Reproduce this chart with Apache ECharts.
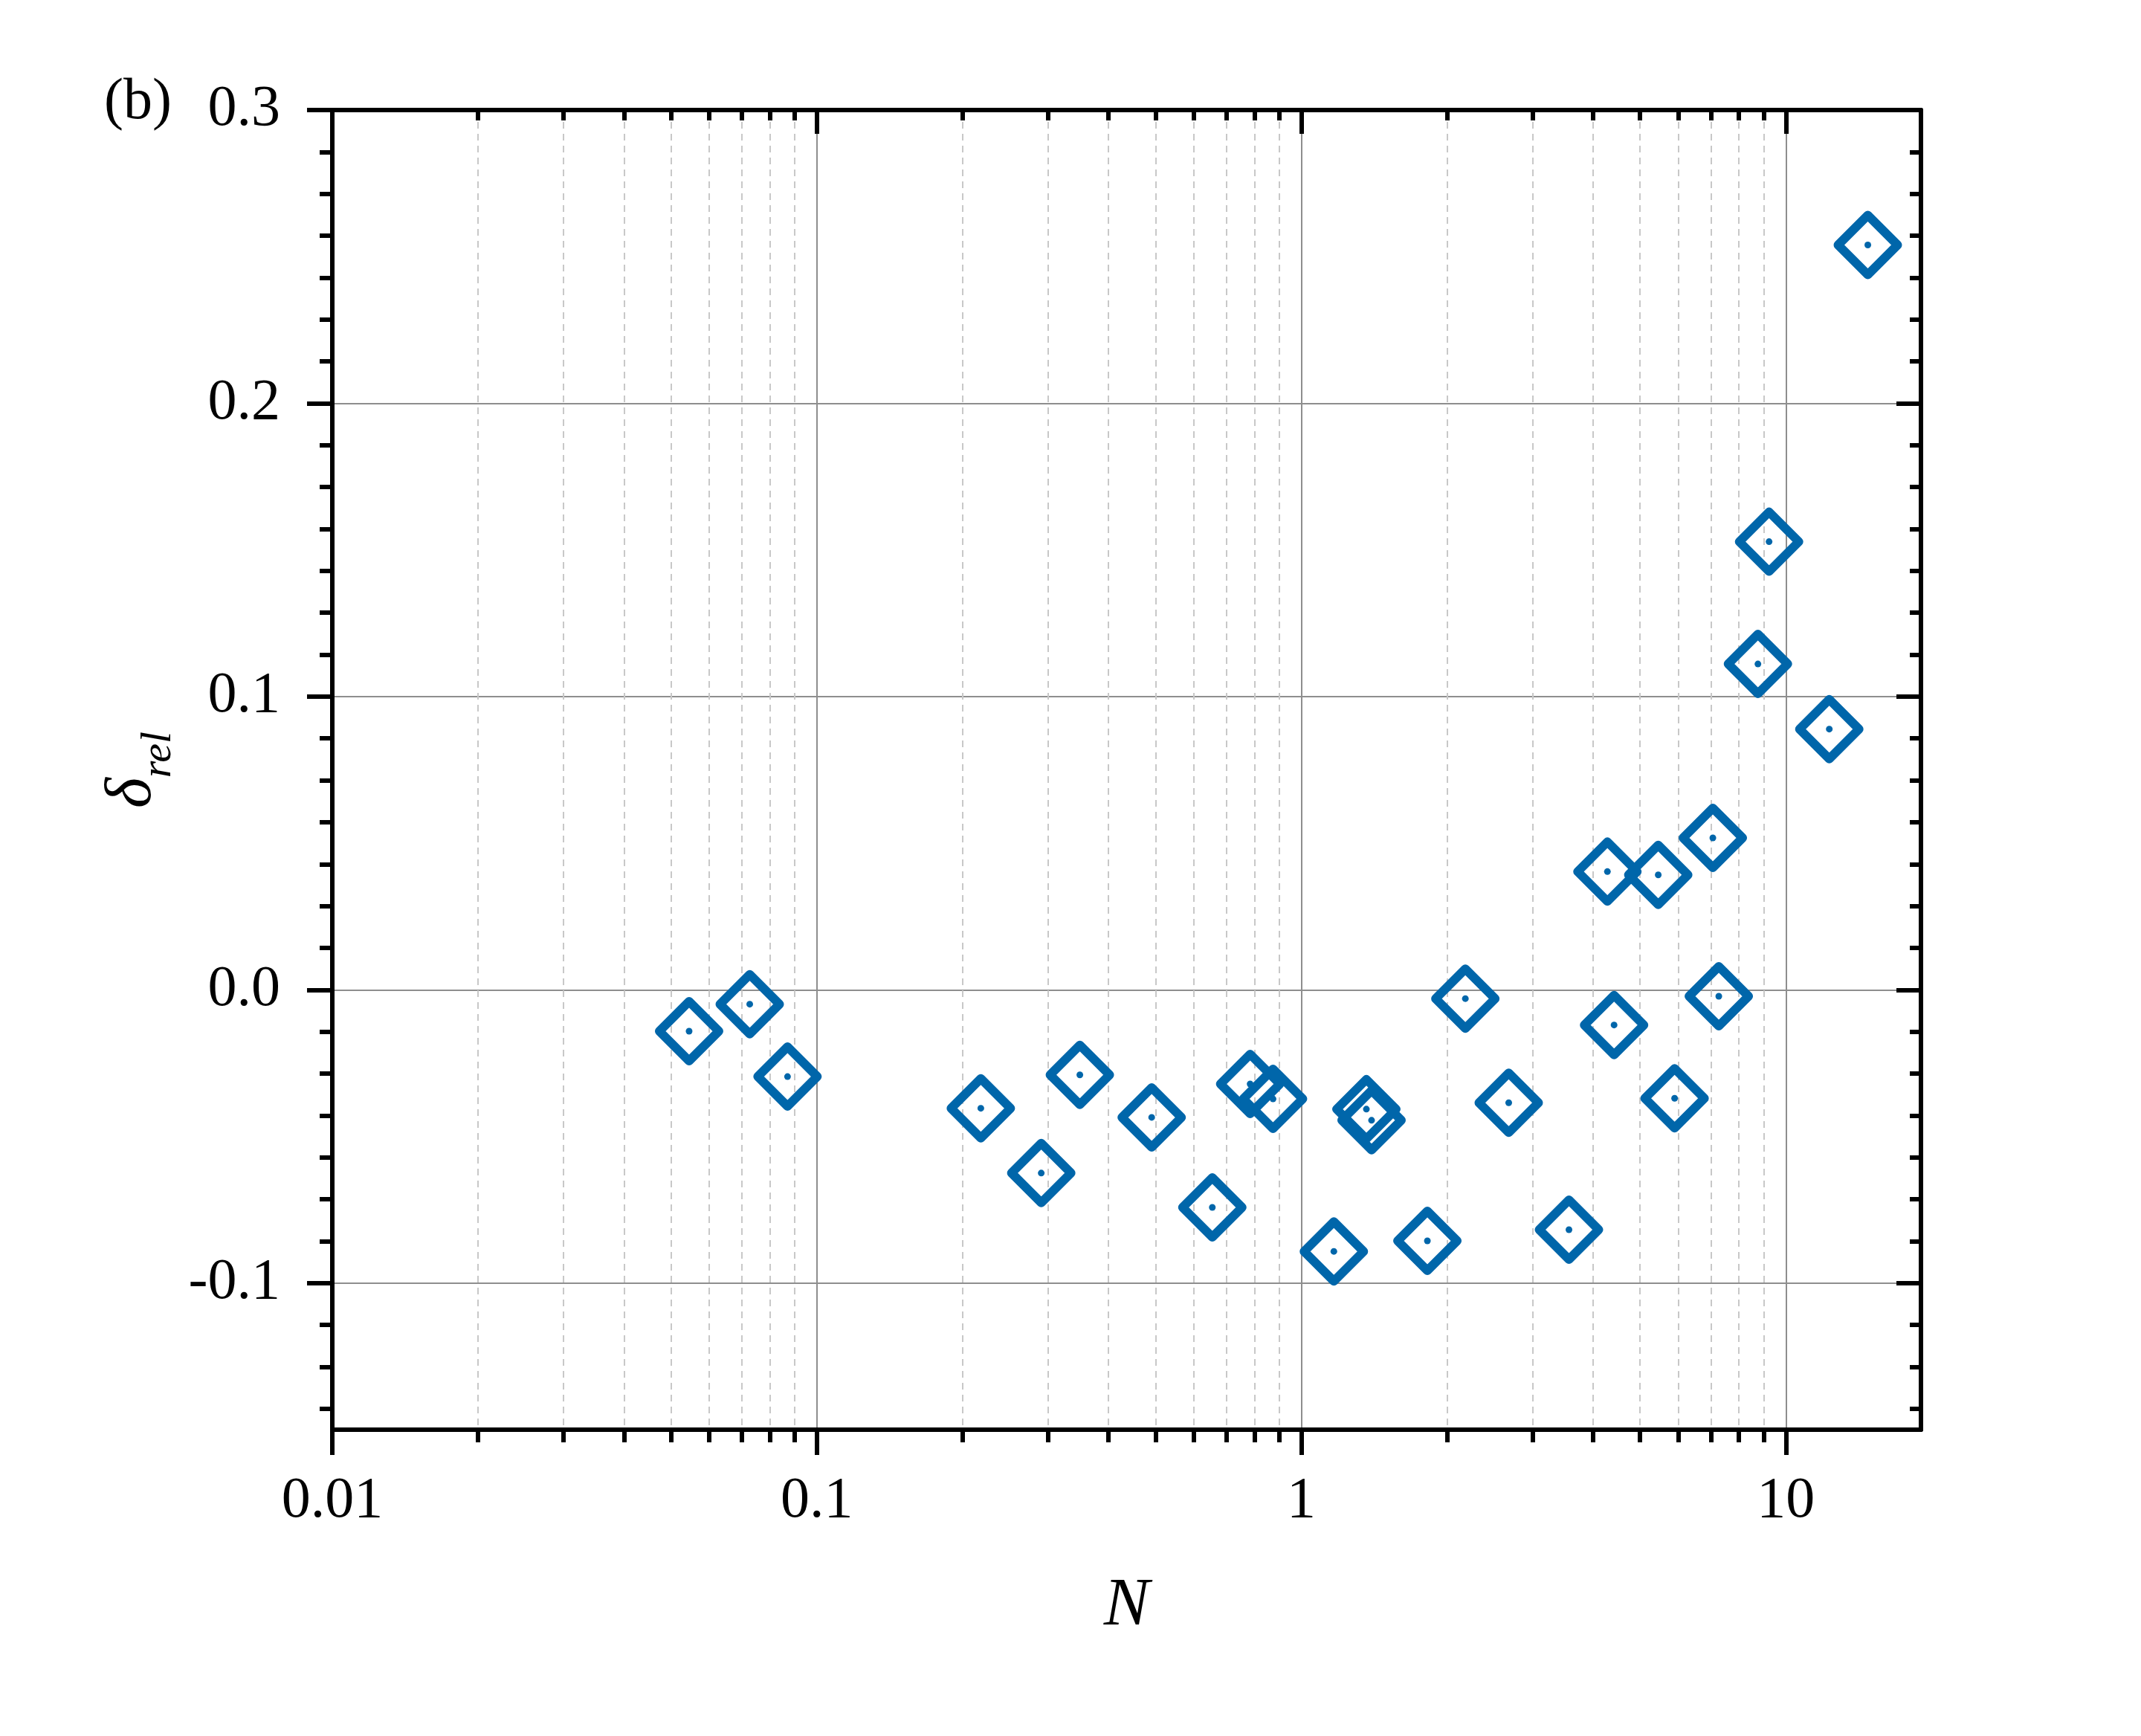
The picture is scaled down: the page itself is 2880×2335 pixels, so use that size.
<!DOCTYPE html>
<html>
<head>
<meta charset="utf-8">
<script src="https://cdn.jsdelivr.net/npm/echarts@6/dist/echarts.min.js"></script>
<style>
  html, body { margin: 0; padding: 0; background: #fff; }
  #chart { width: 2880px; height: 2335px; }
</style>
</head>
<body>
<div id="chart"></div>
<script>
// N values (log x) and relative deviation
var nVals = [0.0545, 0.0727, 0.0870, 0.218, 0.2905, 0.349, 0.491, 0.655, 0.784, 0.874,
             1.167, 1.362, 1.396, 1.820, 2.180, 2.679, 3.567, 4.282, 4.420, 5.452,
             5.893, 7.067, 7.270, 8.756, 9.232, 12.29, 14.76];
var deltaRel = [-0.0141, -0.0049, -0.0296, -0.0404, -0.0625, -0.0290, -0.0435, -0.0742, -0.0321, -0.0372,
                -0.0892, -0.0407, -0.0445, -0.0856, -0.0030, -0.0385, -0.0818, 0.0403, -0.0120, 0.0392,
                -0.0370, 0.0518, -0.0022, 0.1111, 0.1528, 0.0889, 0.2540];

var xMajor = [0.01, 0.1, 1, 10];
var xMajorLabels = ['0.01', '0.1', '1', '10'];
var xMinor = [0.02, 0.03, 0.04, 0.05, 0.06, 0.07, 0.08, 0.09,
              0.2, 0.3, 0.4, 0.5, 0.6, 0.7, 0.8, 0.9,
              2, 3, 4, 5, 6, 7, 8, 9];
var yMajor = [-0.1, 0, 0.1, 0.2, 0.3];
var yMajorLabels = ['-0.1', '0.0', '0.1', '0.2', '0.3'];

// minor y ticks: 6 between majors (step 0.1/7)
var yMinor = [];
for (var i = -3; i <= 28; i++) {
  if (i % 7 !== 0) yMinor.push(-0.1 + i * 0.1 / 7);
}

var points = nVals.map(function (n, k) { return [n, deltaRel[k]]; });

var blue = '#0066aa';
var font = 'Liberation Serif';
var xMin = 0.01, xMax = 19, yMin = -0.15, yMax = 0.3;

function xAxisBase(extra) {
  var a = {
    type: 'log', logBase: 10, min: xMin, max: xMax,
    axisLine: { show: false, onZero: false },
    axisLabel: { show: false },
    splitLine: { show: false },
    axisTick: { show: false }
  };
  for (var k in extra) a[k] = extra[k];
  return a;
}
function yAxisBase(extra) {
  var a = {
    type: 'value', min: yMin, max: yMax,
    axisLine: { show: false, onZero: false },
    axisLabel: { show: false },
    splitLine: { show: false },
    axisTick: { show: false }
  };
  for (var k in extra) a[k] = extra[k];
  return a;
}

var chart = echarts.init(document.getElementById('chart'));
chart.setOption({
  animation: false,
  backgroundColor: '#fff',
  grid: { left: 447, right: 296, top: 148, bottom: 412, containLabel: false },
  graphic: [{
    type: 'text', left: 140, top: 100,
    style: { text: '(b)', font: '78px "' + font + '"', fill: '#000' }
  }],
  xAxis: [
    xAxisBase({
      position: 'bottom',
      name: 'N', nameLocation: 'middle', nameGap: 192,
      nameTextStyle: { fontFamily: font, fontStyle: 'italic', fontSize: 92, color: '#000' },
      axisLine: { show: true, onZero: false, lineStyle: { color: '#000', width: 6 } },
      axisTick: { show: true, inside: false, length: 34, customValues: xMajor, lineStyle: { color: '#000', width: 6 } },
      axisLabel: {
        show: true, customValues: xMajor, margin: 58,
        fontFamily: font, fontSize: 78, color: '#000',
        formatter: function (v) {
          for (var j = 0; j < xMajor.length; j++) {
            if (Math.abs(Math.log10(v / xMajor[j])) < 1e-6) return xMajorLabels[j];
          }
          return '';
        }
      },
      splitLine: { show: true, lineStyle: { color: '#8e8e8e', width: 2 } }
    }),
    xAxisBase({
      position: 'bottom',
      axisTick: { show: true, inside: false, length: 17, customValues: xMinor, lineStyle: { color: '#000', width: 6 } },
      splitLine: { show: true, lineStyle: { color: '#c8c8c8', width: 2, type: [9, 7] } }
    }),
    xAxisBase({
      position: 'top',
      axisLine: { show: true, onZero: false, lineStyle: { color: '#000', width: 6 } },
      axisTick: { show: true, inside: true, length: 32, customValues: xMajor, lineStyle: { color: '#000', width: 6 } }
    }),
    xAxisBase({
      position: 'top',
      axisTick: { show: true, inside: true, length: 14, customValues: xMinor, lineStyle: { color: '#000', width: 6 } }
    })
  ],
  yAxis: [
    yAxisBase({
      position: 'left',
      name: '{d|δ}{s|rel}', nameLocation: 'middle', nameGap: 211,
      nameTextStyle: {
        rich: {
          d: { fontFamily: font, fontStyle: 'italic', fontSize: 88, lineHeight: 88, verticalAlign: 'top', color: '#000' },
          s: { fontFamily: font, fontStyle: 'italic', fontSize: 58, lineHeight: 58, verticalAlign: 'top', padding: [50, 0, 0, 0], color: '#000' }
        }
      },
      axisLine: { show: true, onZero: false, lineStyle: { color: '#000', width: 6 } },
      axisTick: { show: true, inside: false, length: 34, customValues: yMajor, lineStyle: { color: '#000', width: 6 } },
      axisLabel: {
        show: true, customValues: yMajor, margin: 70,
        fontFamily: font, fontSize: 78, color: '#000',
        formatter: function (v) {
          for (var j = 0; j < yMajor.length; j++) {
            if (Math.abs(v - yMajor[j]) < 1e-9) return yMajorLabels[j];
          }
          return '';
        }
      },
      splitLine: { show: true, lineStyle: { color: '#8e8e8e', width: 2 } }
    }),
    yAxisBase({
      position: 'left',
      axisTick: { show: true, inside: false, length: 17, customValues: yMinor, lineStyle: { color: '#000', width: 6 } }
    }),
    yAxisBase({
      position: 'right',
      axisLine: { show: true, onZero: false, lineStyle: { color: '#000', width: 6 } },
      axisTick: { show: true, inside: true, length: 33, customValues: yMajor, lineStyle: { color: '#000', width: 6 } }
    }),
    yAxisBase({
      position: 'right',
      axisTick: { show: true, inside: true, length: 15, customValues: yMinor, lineStyle: { color: '#000', width: 6 } }
    })
  ],
  series: [
    {
      type: 'scatter', xAxisIndex: 0, yAxisIndex: 0,
      data: points,
      symbol: 'diamond', symbolSize: 80,
      itemStyle: { color: 'rgba(0,0,0,0)', borderColor: blue, borderWidth: 12, borderJoin: 'round', opacity: 1 },
      z: 5
    },
    {
      type: 'scatter', xAxisIndex: 0, yAxisIndex: 0,
      data: points,
      symbol: 'circle', symbolSize: 9,
      itemStyle: { color: blue, opacity: 1 },
      z: 6
    }
  ]
});

window.addEventListener('resize', function () { chart.resize(); });
</script>
</body>
</html>
